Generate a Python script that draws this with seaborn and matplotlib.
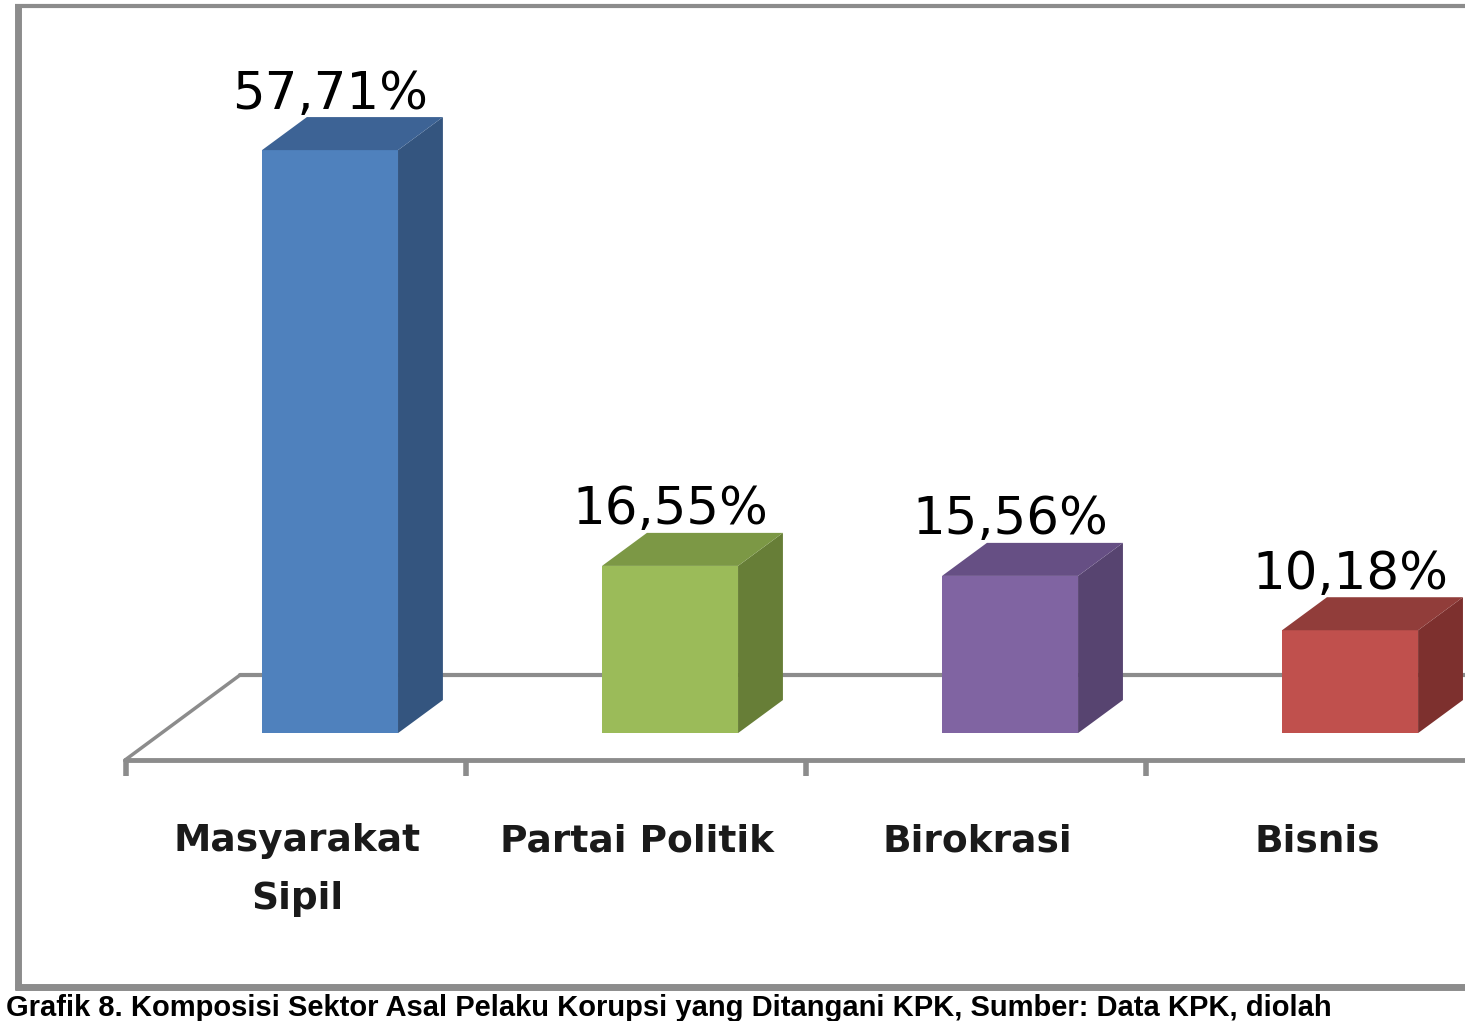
import matplotlib
matplotlib.use("Agg")
import matplotlib.pyplot as plt
from matplotlib.patches import Polygon
from matplotlib.lines import Line2D
import seaborn as sns
import pandas as pd

# ----------------------- data -----------------------------------------------
categories = ["Masyarakat\nSipil", "Partai Politik", "Birokrasi", "Bisnis"]
values = [57.71, 16.55, 15.56, 10.18]
value_labels = ["57,71%", "16,55%", "15,56%", "10,18%"]
caption = ("Grafik 8. Komposisi Sektor Asal Pelaku Korupsi yang Ditangani KPK, "
           "Sumber: Data KPK, diolah")

FRONT = ["#4F81BD", "#9BBB59", "#8064A2", "#C0504D"]
SIDE = ["#34557F", "#677E37", "#574470", "#7D302E"]
TOP = ["#3D6395", "#7C9845", "#664F84", "#913D3A"]
GRID = "#8C8C8C"

# 3D depth offsets (data units)
DX, DY = 0.132, 3.27

sns.set_theme(style="white")
plt.rcParams["font.family"] = ["DejaVu Sans"]

fig = plt.figure(figsize=(14.65, 10.21), dpi=100)
ax = fig.add_axes([0, 0, 1, 1])

df = pd.DataFrame({"cat": categories, "val": values})
sns.barplot(data=df, x="cat", y="val", hue="cat", palette=FRONT, width=0.4,
            saturation=1, legend=False, ax=ax, zorder=3, linewidth=0)

ax.set_xlim(-0.9706, 3.338)
ax.set_ylim(-28.5, 72.57)
ax.axis("off")

# floor
ax.add_line(Line2D([-0.265, 3.5], [5.74, 5.74], color=GRID, lw=3, zorder=1))
ax.add_line(Line2D([-0.603, 3.5], [-2.67, -2.67], color=GRID, lw=3.5, zorder=1))
ax.add_line(Line2D([-0.603, -0.265], [-2.67, 5.74], color=GRID, lw=2.5, zorder=1))
for k in range(5):
    ax.add_line(Line2D([k - 0.6, k - 0.6], [-2.67, -4.2], color=GRID, lw=4,
                       solid_capstyle="butt", zorder=1))

# 3D side/top faces + value labels
for i, p in enumerate(ax.patches):
    x0 = p.get_x()
    x1 = x0 + p.get_width()
    h = p.get_height()
    side = Polygon([(x1, 0), (x1 + DX, DY), (x1 + DX, h + DY), (x1, h)],
                   closed=True, facecolor=SIDE[i], edgecolor="none", zorder=3)
    top = Polygon([(x0, h), (x0 + DX, h + DY), (x1 + DX, h + DY), (x1, h)],
                  closed=True, facecolor=TOP[i], edgecolor="none", zorder=3)
    ax.add_patch(side)
    ax.add_patch(top)
    ax.text(x0 + p.get_width() / 2, h + 5.5, value_labels[i], ha="center", va="center",
            fontsize=37, color="black", zorder=5)

# category labels
for i, c in enumerate(categories):
    ax.text(i - 0.097, -8.9, c, ha="center", va="top", fontsize=27, fontweight="bold",
            color="#1a1a1a", linespacing=1.8, zorder=5)

# outer frame
fig.add_artist(Line2D([0.0125, 0.0125], [0.030, 0.995], color=GRID, lw=5, solid_capstyle="butt"))
fig.add_artist(Line2D([0.0105, 1.0], [0.9945, 0.9945], color=GRID, lw=3, solid_capstyle="butt"))
fig.add_artist(Line2D([0.0105, 1.0], [0.033, 0.033], color=GRID, lw=5, solid_capstyle="butt"))

# caption
fig.text(0.004, 0.013, caption, ha="left", va="center", fontsize=21, fontweight="bold",
         family=["Liberation Sans", "DejaVu Sans"], color="black")

fig.savefig("out.png", dpi=100)
